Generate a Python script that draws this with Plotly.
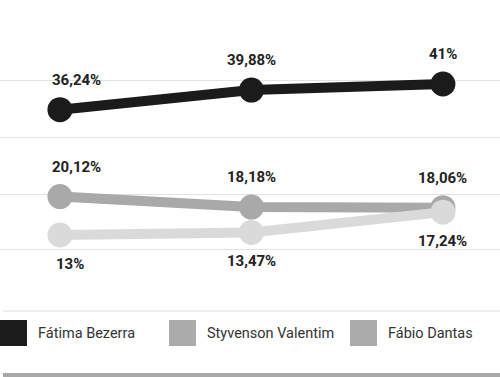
import plotly.graph_objects as go

# ---- data ----
pesquisas = ["1ª pesquisa", "2ª pesquisa", "3ª pesquisa"]
candidatos = ["Fátima Bezerra", "Styvenson Valentim", "Fábio Dantas"]
fatima = [36.24, 39.88, 41.00]
styvenson = [20.12, 18.18, 18.06]
fabio = [13.00, 13.47, 17.24]

# ---- styles ----
cores_linha = {"Fátima Bezerra": "#1b1b1b", "Styvenson Valentim": "#a9a9a9", "Fábio Dantas": "#dadada"}
cores_legenda = {"Fátima Bezerra": "#1b1b1b", "Styvenson Valentim": "#ababab", "Fábio Dantas": "#ababab"}
rotulo_acima = {"Fátima Bezerra": True, "Styvenson Valentim": True, "Fábio Dantas": False}
series = {"Fátima Bezerra": fatima, "Styvenson Valentim": styvenson, "Fábio Dantas": fabio}

W, H = 500, 377
TOP, BOTTOM = 60, 290  # plot area in pixels
FONT = "Roboto, 'Noto Sans', sans-serif"


def fmt(v):
    s = f"{v:.2f}".rstrip("0").rstrip(".")
    return s.replace(".", ",") + "%"


fig = go.Figure()
order = ["Styvenson Valentim", "Fábio Dantas", "Fátima Bezerra"]
for nome in order:
    vals = series[nome]
    fig.add_trace(go.Scatter(
        x=pesquisas, y=vals, mode="lines+markers", name=nome,
        line=dict(color=cores_linha[nome], width=10),
        marker=dict(color=cores_linha[nome], size=25),
        showlegend=False, hoverinfo="skip",
    ))

annotations = []
for nome in candidatos:
    vals = series[nome]
    for i, v in enumerate(vals):
        up = rotulo_acima[nome]
        xshift = 0
        if i == 0:
            xshift = 17 if up else 10
        annotations.append(dict(
            x=pesquisas[i], y=v, xref="x", yref="y", text=fmt(v), showarrow=False,
            yshift=30 if up else -29, xshift=xshift,
            font=dict(family=FONT, size=15, color="#222222", weight="bold"),
        ))


def py(p):
    return (BOTTOM - p) / (BOTTOM - TOP)


def px(x):
    return x / W


shapes = []
# legend separator and bottom rule
shapes.append(dict(type="line", xref="paper", yref="paper", x0=px(3), x1=1, y0=py(311), y1=py(311),
                   line=dict(color="#dedede", width=1)))
shapes.append(dict(type="line", xref="paper", yref="paper", x0=px(3), x1=1, y0=py(375), y1=py(375),
                   line=dict(color="#a8a8a8", width=4)))

leg_x = [0, 169, 350]
for nome, x0 in zip(candidatos, leg_x):
    shapes.append(dict(type="rect", xref="paper", yref="paper", x0=px(x0), x1=px(x0 + 27),
                       y0=py(346), y1=py(320), fillcolor=cores_legenda[nome], line=dict(width=0)))
    annotations.append(dict(x=px(x0 + 36), y=py(333), xref="paper", yref="paper", text=nome,
                            showarrow=False, xanchor="left", yanchor="middle",
                            font=dict(family=FONT, size=14.5, color="#333333")))

fig.update_layout(
    width=W, height=H,
    margin=dict(l=0, r=0, t=TOP, b=H - BOTTOM),
    paper_bgcolor="white", plot_bgcolor="white",
    xaxis=dict(range=[-0.313, 2.298], showgrid=False, zeroline=False, showticklabels=False,
               showline=False, fixedrange=True),
    yaxis=dict(range=[2.80, 45.45], tickvals=[10.22, 20.42, 30.99, 41.74], showticklabels=False,
               showgrid=True, gridcolor="#e2e2e2", gridwidth=1, zeroline=False, showline=False,
               fixedrange=True),
    annotations=annotations, shapes=shapes,
)

fig.write_html("out.html", config={"displayModeBar": False},
               post_script="document.body.style.margin='0';document.body.style.overflow='hidden';")
